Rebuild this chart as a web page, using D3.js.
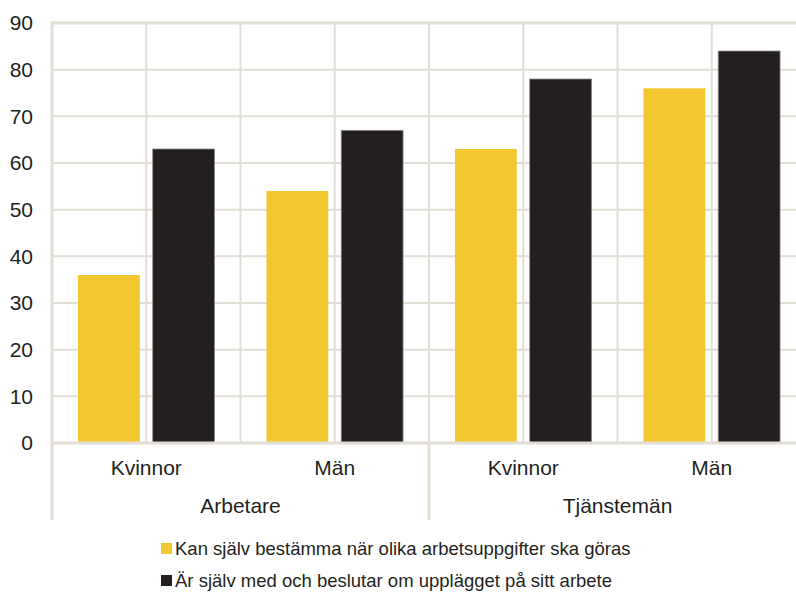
<!DOCTYPE html>
<html>
<head>
<meta charset="utf-8">
<script src="https://cdn.jsdelivr.net/npm/d3@7"></script>
<style>
body { margin: 0; background: #fff; }
text { font-family: "Liberation Sans", Arial, Helvetica, sans-serif; fill: #231f20; }
</style>
</head>
<body>
<figure id="chart" style="margin:0"></figure>
<script>
// data
var groups = ["Arbetare", "Tjänstemän"];
var categories = ["Kvinnor", "Män"];
var seriesNames = [
    "Kan själv bestämma när olika arbetsuppgifter ska göras",
    "Är själv med och beslutar om upplägget på sitt arbete"
];
var seriesColors = ["#f2c72f", "#231f20"];
var yellowValues = [36, 54, 63, 76];
var blackValues = [63, 67, 78, 84];
var yTicks = [0, 10, 20, 30, 40, 50, 60, 70, 80, 90];

var dimensions = {
    width: 796,
    height: 594,
    margin: { top: 23, right: -10, bottom: 151, left: 52 }
};
dimensions.boundedWidth = dimensions.width - dimensions.margin.left - dimensions.margin.right;
dimensions.boundedHeight = dimensions.height - dimensions.margin.top - dimensions.margin.bottom;

var gridColor = "#e2ddd5";

var svg = d3.select("figure#chart")
    .append("svg")
    .attr("width", dimensions.width)
    .attr("height", dimensions.height)
    .append("g")
    .attr("transform", `translate(${dimensions.margin.left},${dimensions.margin.top})`);

// one row per bar cluster
var rows = [];
groups.forEach(function(g, gi) {
    categories.forEach(function(c, ci) {
        var i = gi * categories.length + ci;
        rows.push({ key: g + "|" + c, group: g, cat: c, values: [yellowValues[i], blackValues[i]] });
    });
});

var xGroup = d3.scaleBand()
    .domain(groups)
    .range([0, dimensions.boundedWidth]);

var xScale = d3.scaleBand()
    .domain(rows.map(d => d.key))
    .range([0, dimensions.boundedWidth]);

var xSeries = d3.scaleBand()
    .domain(d3.range(seriesNames.length))
    .range([0, xScale.bandwidth()])
    .paddingInner(0.173)
    .paddingOuter(0.347);

var yScale = d3.scaleLinear()
    .domain([0, 90])
    .range([dimensions.boundedHeight, 0]);

// horizontal gridlines
svg.append("g")
    .selectAll("line")
    .data(yTicks.filter(t => t > 0))
    .enter()
    .append("line")
    .attr("x1", 0)
    .attr("x2", dimensions.boundedWidth)
    .attr("y1", d => yScale(d))
    .attr("y2", d => yScale(d))
    .attr("stroke", gridColor)
    .attr("stroke-width", d => d === 90 ? 3 : 2);

// vertical gridlines: category edges and centres
var vLines = [];
rows.forEach(function(d) {
    vLines.push(xScale(d.key));
    vLines.push(xScale(d.key) + xScale.bandwidth() / 2);
});
svg.append("g")
    .selectAll("line")
    .data(vLines.filter(v => v > 0))
    .enter()
    .append("line")
    .attr("x1", d => d)
    .attr("x2", d => d)
    .attr("y1", 0)
    .attr("y2", dimensions.boundedHeight)
    .attr("stroke", gridColor)
    .attr("stroke-width", 2);

// bars
var cluster = svg.selectAll("g.cluster")
    .data(rows)
    .enter()
    .append("g")
    .attr("class", "cluster")
    .attr("transform", d => `translate(${xScale(d.key)},0)`);

cluster.selectAll("rect")
    .data(d => d.values.map((v, i) => ({ i: i, v: v })))
    .enter()
    .append("rect")
    .attr("x", d => xSeries(d.i))
    .attr("width", xSeries.bandwidth())
    .attr("y", d => yScale(d.v))
    .attr("height", d => yScale(0) - yScale(d.v))
    .attr("fill", d => seriesColors[d.i])
    .attr("stroke", d => d.i === 1 ? "#8f8b8c" : "none")
    .attr("stroke-width", 0.8);

// left axis line
svg.append("line")
    .attr("x1", 0).attr("x2", 0)
    .attr("y1", -1.5).attr("y2", dimensions.boundedHeight + 77)
    .attr("stroke", gridColor)
    .attr("stroke-width", 3);

// bottom axis line
svg.append("line")
    .attr("x1", 0).attr("x2", dimensions.boundedWidth)
    .attr("y1", yScale(0)).attr("y2", yScale(0))
    .attr("stroke", gridColor)
    .attr("stroke-width", 3);

// group separators below the axis
svg.append("g")
    .selectAll("line")
    .data(groups.slice(1))
    .enter()
    .append("line")
    .attr("x1", d => xGroup(d))
    .attr("x2", d => xGroup(d))
    .attr("y1", dimensions.boundedHeight)
    .attr("y2", dimensions.boundedHeight + 77)
    .attr("stroke", gridColor)
    .attr("stroke-width", 3);

// y axis tick labels
var yAxis = svg.append("g")
    .attr("class", "y axis")
    .call(d3.axisLeft(yScale).tickValues(yTicks).tickSize(0).tickPadding(19));
yAxis.select(".domain").remove();
yAxis.selectAll("text")
    .attr("font-size", 21)
    .attr("fill", "#231f20");

// category labels
svg.append("g")
    .selectAll("text")
    .data(rows)
    .enter()
    .append("text")
    .attr("x", d => xScale(d.key) + xScale.bandwidth() / 2)
    .attr("y", dimensions.boundedHeight + 32)
    .attr("text-anchor", "middle")
    .attr("font-size", 21)
    .text(d => d.cat);

// group labels
svg.append("g")
    .selectAll("text")
    .data(groups)
    .enter()
    .append("text")
    .attr("x", d => xGroup(d) + xGroup.bandwidth() / 2)
    .attr("y", dimensions.boundedHeight + 70)
    .attr("text-anchor", "middle")
    .attr("font-size", 21)
    .text(d => d);

// legend
var legend = d3.select("svg").append("g")
    .attr("transform", "translate(161,543)");

var item = legend.selectAll("g")
    .data(seriesNames)
    .enter()
    .append("g")
    .attr("transform", (d, i) => `translate(0,${i * 32})`);

item.append("rect")
    .attr("width", 11)
    .attr("height", 11)
    .attr("fill", (d, i) => seriesColors[i]);

item.append("text")
    .attr("x", 14)
    .attr("y", 12)
    .attr("font-size", 18.5)
    .text(d => d);
</script>
</body>
</html>
